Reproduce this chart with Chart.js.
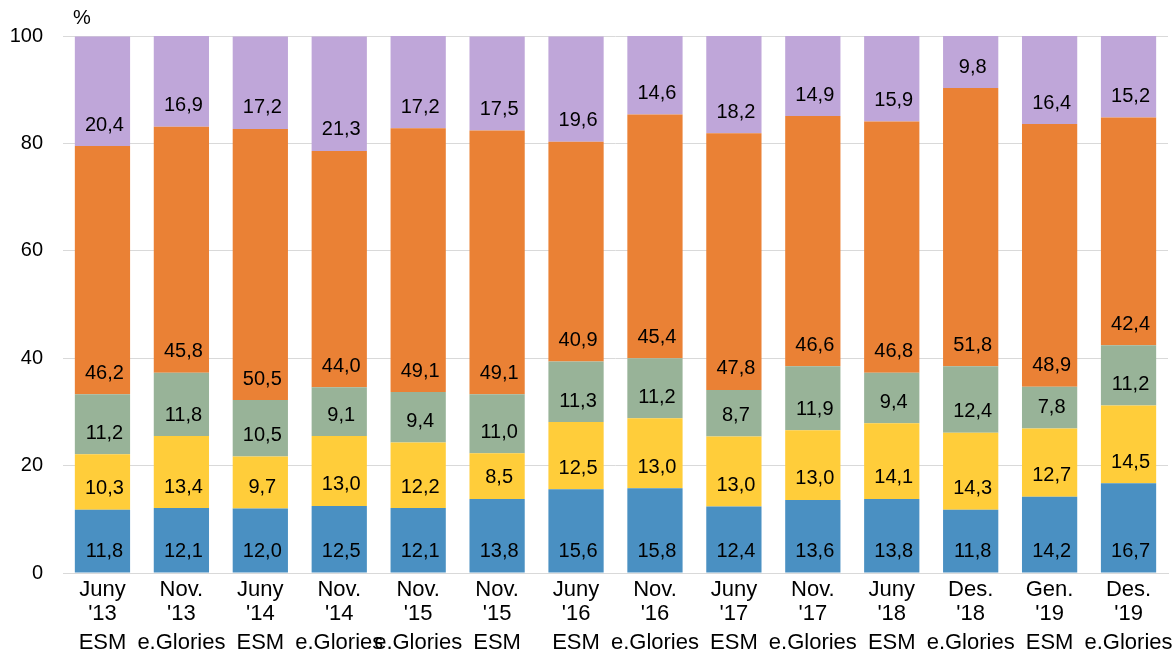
<!DOCTYPE html>
<html>
<head>
<meta charset="utf-8">
<script src="https://cdn.jsdelivr.net/npm/chart.js@4/dist/chart.umd.min.js"></script>
<style>
  body { margin: 0; background: #ffffff; }
  #wrap { width: 1176px; height: 654px; }
</style>
</head>
<body>
<div id="wrap"><canvas id="chart"></canvas></div>
<script>
// period labels (two lines each) and the survey source underneath
var periods = [["Juny", "'13"], ["Nov.", "'13"], ["Juny", "'14"], ["Nov.", "'14"], ["Nov.", "'15"], ["Nov.", "'15"], ["Juny", "'16"],
               ["Nov.", "'16"], ["Juny", "'17"], ["Nov.", "'17"], ["Juny", "'18"], ["Des.", "'18"], ["Gen.", "'19"], ["Des.", "'19"]];
var sources = ["ESM", "e.Glories", "ESM", "e.Glories", "e.Glories", "ESM", "ESM", "e.Glories", "ESM", "e.Glories", "ESM", "e.Glories", "ESM", "e.Glories"];

// series values, bottom to top
var blueValues   = [11.8, 12.1, 12.0, 12.5, 12.1, 13.8, 15.6, 15.8, 12.4, 13.6, 13.8, 11.8, 14.2, 16.7];
var yellowValues = [10.3, 13.4, 9.7, 13.0, 12.2, 8.5, 12.5, 13.0, 13.0, 13.0, 14.1, 14.3, 12.7, 14.5];
var greenValues  = [11.2, 11.8, 10.5, 9.1, 9.4, 11.0, 11.3, 11.2, 8.7, 11.9, 9.4, 12.4, 7.8, 11.2];
var orangeValues = [46.2, 45.8, 50.5, 44.0, 49.1, 49.1, 40.9, 45.4, 47.8, 46.6, 46.8, 51.8, 48.9, 42.4];
var purpleValues = [20.4, 16.9, 17.2, 21.3, 17.2, 17.5, 19.6, 14.6, 18.2, 14.9, 15.9, 9.8, 16.4, 15.2];

var yTicks = [0, 20, 40, 60, 80, 100];

var FONT = "'Liberation Sans', Arial, sans-serif";

function makeSet(values, color) {
    return {
        data: values,
        backgroundColor: color,
        borderWidth: 0,
        categoryPercentage: 1.0,
        barPercentage: 0.7,
        stack: 's'
    };
}

//Draws the value of each segment a little above the segment's base
var segmentLabels = {
    id: 'segmentLabels',
    afterDatasetsDraw: function (chart) {
        var ctx = chart.ctx;
        ctx.save();
        ctx.font = "20px " + FONT;
        ctx.fillStyle = "#000000";
        ctx.textAlign = "center";
        ctx.textBaseline = "middle";
        chart.data.datasets.forEach(function (ds, i) {
            var meta = chart.getDatasetMeta(i);
            meta.data.forEach(function (bar, j) {
                var txt = ds.data[j].toFixed(1).replace('.', ',');
                ctx.fillText(txt, bar.x + 2, bar.base - 21);
            });
        });
        // unit above the value axis
        ctx.textAlign = "left";
        ctx.fillText("%", chart.chartArea.left + 10, 18);
        ctx.restore();
    }
};

// fixed band heights for the two label rows, no extra side padding for long labels
function fitBand(h) {
    return function (axis) {
        axis.height = h;
        axis.paddingLeft = 0;
        axis.paddingRight = 0;
    };
}

var ctx = document.getElementById("chart").getContext("2d");
var chart = new Chart(ctx, {
    type: 'bar',
    data: {
        labels: periods,
        datasets: [
            makeSet(blueValues, "#4A90C2"),
            makeSet(yellowValues, "#FFCD3A"),
            makeSet(greenValues, "#98B398"),
            makeSet(orangeValues, "#EA8135"),
            makeSet(purpleValues, "#BFA6D9")
        ]
    },
    options: {
        responsive: true,
        maintainAspectRatio: false,
        animation: false,
        layout: { padding: { top: 36, right: 8, left: 0, bottom: 0 } },
        plugins: {
            legend: { display: false },
            tooltip: { enabled: false }
        },
        scales: {
            x: {
                stacked: true,
                grid: { display: false, drawTicks: false },
                border: { display: true, color: "#d9d9d9", width: 1 },
                ticks: { color: "#000000", font: { family: FONT, size: 22, lineHeight: 1.1 }, padding: 5, maxRotation: 0, autoSkip: false },
                afterFit: fitBand(52)
            },
            x2: {
                type: 'category',
                labels: sources,
                position: 'bottom',
                grid: { display: false, drawTicks: false },
                border: { display: false },
                ticks: { color: "#000000", font: { family: FONT, size: 22, lineHeight: 1.0 }, padding: 7, maxRotation: 0, autoSkip: false },
                afterFit: fitBand(29)
            },
            y: {
                stacked: true,
                min: 0,
                max: 100,
                afterBuildTicks: function (axis) {
                    axis.ticks = yTicks.map(function (v) { return { value: v }; });
                },
                afterFit: function (axis) {
                    axis.width = 63;
                },
                grid: { color: "#d9d9d9", lineWidth: 1, drawTicks: false },
                border: { display: false },
                ticks: { color: "#000000", font: { family: FONT, size: 20 }, padding: 20 }
            }
        }
    },
    plugins: [segmentLabels]
});
</script>
</body>
</html>
